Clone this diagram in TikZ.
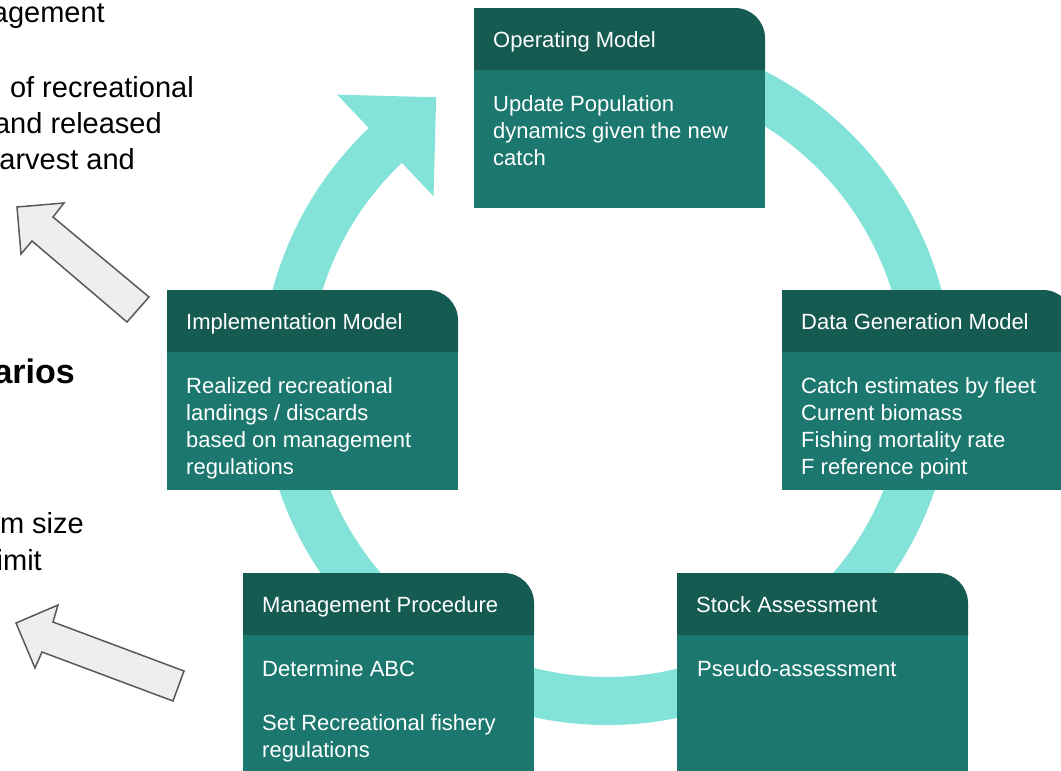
\documentclass[tikz,border=0pt]{standalone}
\usepackage{fontspec}
\setmainfont{Liberation Sans}
\usetikzlibrary{calc}
\definecolor{hdrcol}{HTML}{165B52}
\definecolor{bodycol}{HTML}{1C786E}
\definecolor{ringcol}{HTML}{84E3D9}
\definecolor{grayfill}{HTML}{EEEEEE}
\definecolor{grayline}{HTML}{595959}
\newcommand\boxfont{\fontsize{22}{27}\selectfont}
\newcommand\sidefont{\fontsize{29}{36}\selectfont}
\newcommand\cyclebox[4]{%
  \fill[bodyfill] (#2,#3+60) rectangle (#2+291,#3+200);
  \fill[hdr] (#2,#3+62) -- (#2,#3) -- (#2+261,#3)
     arc[start angle=270,end angle=360,radius=30] -- (#2+291,#3+62) -- cycle;
  \node[ttl] (#1) at (#2+19,#3+39) {#4};
}
\begin{document}
\begin{tikzpicture}[x=1pt,y=-1pt,
  hdr/.style={fill=hdrcol},
  bodyfill/.style={fill=bodycol},
  ttl/.style={anchor=base west,inner sep=0pt,text=white,font=\boxfont},
  btxt/.style={anchor=base west,inner sep=0pt,text=white,font=\boxfont},
  side/.style={anchor=base east,inner sep=0pt,text=black,font=\sidefont},
  garrow/.style={fill=grayfill,draw=grayline,line width=1.5pt,line join=miter},
  ring/.style={fill=ringcol}]
\useasboundingbox (0,0) rectangle (1061,771);
\fill[white] (0,0) rectangle (1061,771);
\clip (0,0) rectangle (1061,771);
\coordinate (c) at (607,379);
% cycle ring with arrowhead
\fill[ring] ($(c)+(280:346)$) arc[start angle=280,end angle=586.5,radius=346]
  -- ($(c)+(226.5:392)$) -- ($(c)+(226.5:322)+(316.5:70)$) -- ($(c)+(226.5:252)$)
  -- ($(c)+(226.5:298)$) arc[start angle=586.5,end angle=280,radius=298] -- cycle;
% boxes
\cyclebox{op}{474}{8}{Operating Model}
\cyclebox{im}{167}{290}{Implementation Model}
\cyclebox{dg}{782}{290}{Data Generation Model}
\cyclebox{mp}{243}{573}{Management Procedure}
\cyclebox{sa}{677}{573}{Stock Assessment}
\node[btxt] (op1) at (493,111) {Update Population};
\node[btxt] (op2) at (493,138) {dynamics given the new};
\node[btxt] (op3) at (493,165) {catch};
\node[btxt] (im1) at (186,393) {Realized recreational};
\node[btxt] (im2) at (186,420) {landings / discards};
\node[btxt] (im3) at (186,447) {based on management};
\node[btxt] (im4) at (186,474) {regulations};
\node[btxt] (dg1) at (801,393) {Catch estimates by fleet};
\node[btxt] (dg2) at (801,420) {Current biomass};
\node[btxt] (dg3) at (801,447) {Fishing mortality rate};
\node[btxt] (dg4) at (801,474) {F reference point};
\node[btxt] (mp1) at (262,676) {Determine ABC};
\node[btxt] (mp2) at (262,730) {Set Recreational fishery};
\node[btxt] (mp3) at (262,757) {regulations};
\node[btxt] (sa1) at (697,676) {Pseudo-assessment};
% side text (cropped at left edge)
\node[side] (s1) at (105,23) {agement};
\node[side] (s2) at (194,97) {of recreational};
\node[side] (s3) at (162,133) {and released};
\node[side] (s4) at (135,169) {arvest and};
\node[side,font=\fontsize{34}{40}\selectfont\bfseries] (s5) at (75,383) {arios};
\node[side] (s6) at (84,533) {m size};
\node[side] (s7) at (42,570) {imit};
% grey arrows
\draw[garrow] (17,207) -- (64,203) -- (53,217) -- (149,297) -- (127,322) -- (32,241) -- (21,254) -- cycle;
\draw[garrow] (16,623) -- (58,605) -- (53,622) -- (184,671) -- (173,701) -- (42,652) -- (35,668) -- cycle;
\end{tikzpicture}
\end{document}
